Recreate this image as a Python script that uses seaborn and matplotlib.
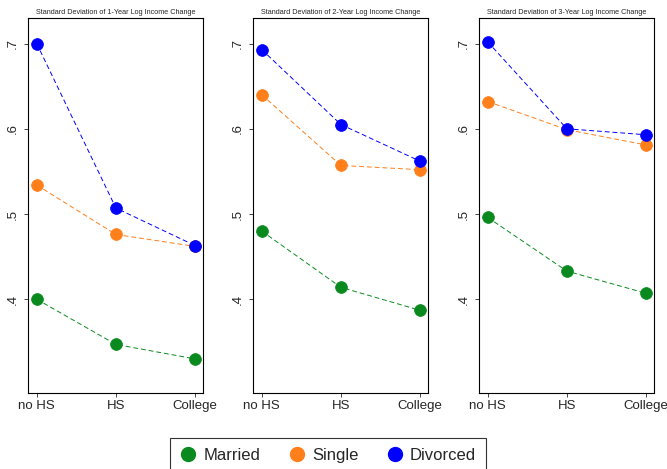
import pandas as pd
import matplotlib
matplotlib.use('Agg')
import matplotlib.pyplot as plt
from matplotlib.ticker import FuncFormatter
from matplotlib.lines import Line2D
import seaborn as sns

# Data
education = ['no HS', 'HS', 'College']
groups = ['Married', 'Single', 'Divorced']
horizons = ['1-Year', '2-Year', '3-Year']

married_sd = [[0.400, 0.347, 0.330],
              [0.480, 0.414, 0.387],
              [0.496, 0.433, 0.407]]
single_sd = [[0.534, 0.476, 0.462],
             [0.640, 0.557, 0.552],
             [0.632, 0.599, 0.581]]
divorced_sd = [[0.700, 0.507, 0.463],
               [0.693, 0.605, 0.562],
               [0.702, 0.600, 0.593]]

colors = {'Married': '#0a8a1e', 'Single': '#ff7f1a', 'Divorced': '#0000ff'}

sns.set_style('white')
plt.rcParams['font.family'] = ['Liberation Sans', 'DejaVu Sans']

fig = plt.figure(figsize=(6.67, 4.69), dpi=100)
lefts = [28, 253, 479]
for i, h in enumerate(horizons):
    ax = fig.add_axes([lefts[i] / 667, 76 / 469, 175 / 667, 375 / 469])
    rows = []
    for g, vals in zip(groups, [married_sd, single_sd, divorced_sd]):
        for e, v in zip(education, vals[i]):
            rows.append({'edu': e, 'group': g, 'sd': v})
    df = pd.DataFrame(rows)
    sns.pointplot(data=df, x='edu', y='sd', hue='group', order=education,
                  hue_order=groups, palette=colors, errorbar=None,
                  markers='o', linestyles='--', markersize=8.5,
                  linewidth=0.7, legend=False, ax=ax)
    for ln in ax.lines:
        ln.set_dashes([5, 3])
    ax.set_xlim(-0.11, 2.1)
    ax.set_ylim(0.29, 0.73)
    ax.set_yticks([0.4, 0.5, 0.6, 0.7])
    ax.yaxis.set_major_formatter(FuncFormatter(lambda v, p: ('%.1f' % v).lstrip('0')))
    ax.tick_params(axis='y', labelrotation=90, labelsize=9.5, length=3, width=0.6, left=True)
    ax.tick_params(axis='x', labelsize=9.5, length=3, width=0.6, bottom=True, pad=2)
    for lbl in ax.get_yticklabels():
        lbl.set_va('center')
    ax.set_xlabel('')
    ax.set_ylabel('')
    ax.set_title('Standard Deviation of %s Log Income Change' % h, fontsize=5.2, pad=3)
    for sp in ax.spines.values():
        sp.set_color('black')
        sp.set_linewidth(0.8)

handles = [Line2D([], [], marker='o', linestyle='', color=colors[g], markersize=10) for g in groups]
leg = fig.legend(handles, groups, loc='upper center', bbox_to_anchor=(0.492, 0.066),
                 ncol=3, fontsize=12, frameon=True, fancybox=False,
                 handlelength=1.0, handletextpad=0.4, columnspacing=1.7, borderpad=0.6,
                 borderaxespad=0)
leg.get_frame().set_edgecolor('black')
leg.get_frame().set_linewidth(0.8)

fig.savefig('out.png', dpi=100)
